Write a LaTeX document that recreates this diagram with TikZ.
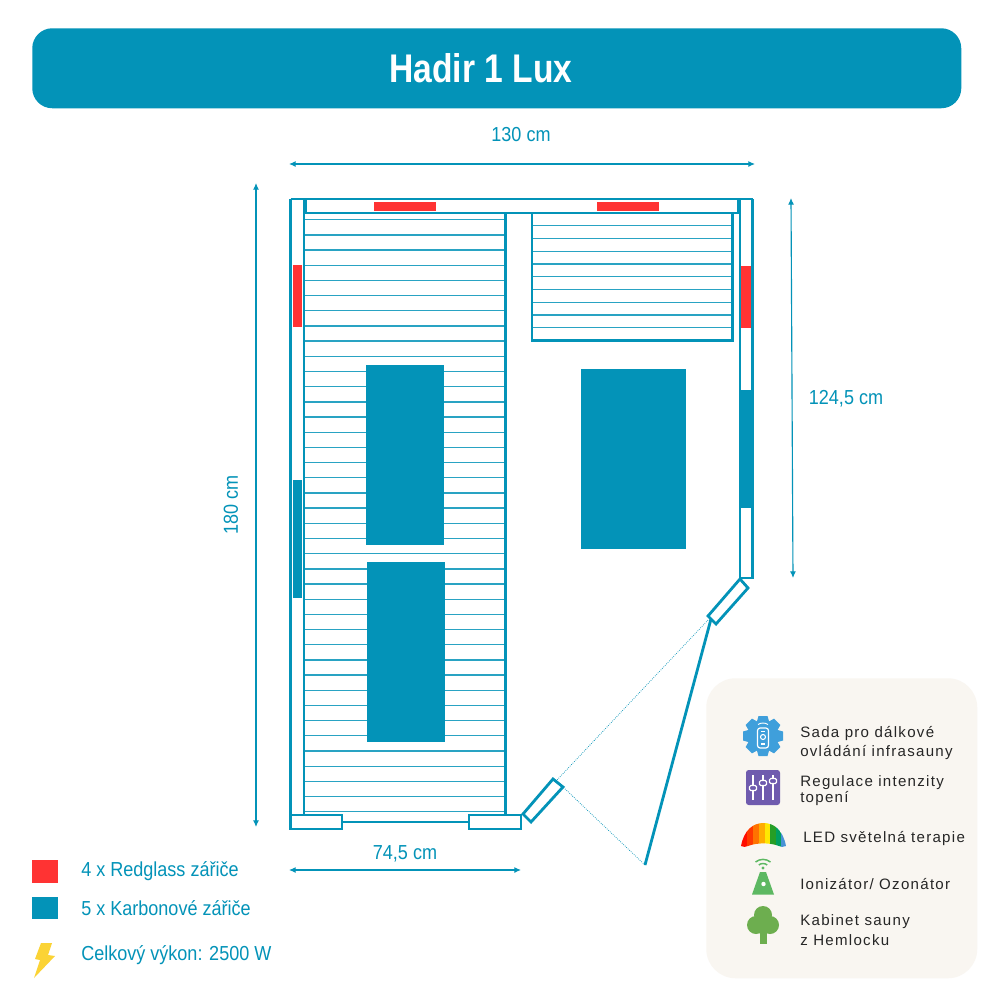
\documentclass[tikz,border=0pt]{standalone}
\usepackage{fontspec}
\setmainfont{Liberation Sans}
\newfontfamily\condf[FakeStretch=0.89]{Liberation Sans}
\newfontfamily\titlef[FakeStretch=0.84]{Liberation Sans}
\newfontfamily\panelf[LetterSpace=8.5]{Liberation Sans}
\usetikzlibrary{arrows.meta}
\definecolor{sblue}{HTML}{0393B8}
\definecolor{sred}{HTML}{FF3333}
\definecolor{panelbg}{HTML}{F9F6F1}
\definecolor{gearblue}{HTML}{3F9FDB}
\definecolor{slidepurple}{HTML}{6F5BAE}
\definecolor{iongreen}{HTML}{5DB862}
\definecolor{treegreen}{HTML}{6DAE4F}
\definecolor{bolt}{HTML}{FBD335}
\tikzset{
  wall/.style={draw=sblue,line width=2.1pt,fill=white},
  wline/.style={draw=sblue,line width=2.1pt},
  slat/.style={draw=sblue!85,line width=1pt},
  carbon/.style={fill=sblue,draw=none},
  redglass/.style={fill=sred,draw=none},
  dimline/.style={draw=sblue,line width=0.85pt,{Latex[length=5pt,width=4.5pt]}-{Latex[length=5pt,width=4.5pt]}},
  dimtext/.style={text=sblue,font=\condf\fontsize{15.2}{17}\selectfont,inner sep=0pt},
  legtext/.style={text=sblue,font=\condf\fontsize{15.2}{17}\selectfont,inner sep=0pt,anchor=west},
  paneltext/.style={text=black!85,font=\panelf\fontsize{11.3}{12}\selectfont,inner sep=0pt,anchor=west,align=left},
  thin door/.style={draw=sblue,line width=0.55pt,densely dotted},
}
\begin{document}
\begin{tikzpicture}[x=0.75pt,y=-0.75pt]
\useasboundingbox (0,0) rectangle (1000,1000);
\fill[white] (0,0) rectangle (1000,1000);
% header
\node[fill=sblue,rounded corners=15pt,minimum width=696.75pt,minimum height=60pt,inner sep=0pt,anchor=north west] (header) at (32,28) {};
\node[text=white,font=\titlef\bfseries\fontsize{30}{33}\selectfont,inner sep=0pt] (title) at (481,68) {Hadir 1 Lux};
% panel
\node[fill=panelbg,rounded corners=22pt,minimum width=203.25pt,minimum height=225pt,inner sep=0pt,anchor=north west] (panel) at (706,678) {};
% slats left
\foreach \i in {0,...,39} { \draw[slat] (304,219.7+\i*15.18) -- (505,219.7+\i*15.18); }
% slats right
\foreach \i in {1,...,9} { \draw[slat] (532,213+\i*12.75) -- (732,213+\i*12.75); }
% walls
\draw[wline] (290.5,199) -- (752.5,199);
\draw[wline] (290.5,199) -- (290.5,815);
\draw[wline] (304,199) -- (304,815);
\draw[wline] (306,199) -- (306,213) -- (738,213) -- (738,199);
\draw[wline] (740,199) -- (740,578) -- (752.5,578) -- (752.5,199);
\draw[wline] (505.5,212) -- (505.5,815);
\draw[wline] (532,213) -- (532,340.5) -- (732.5,340.5) -- (732.5,213);
\draw[wline] (342,822) -- (469,822);
\draw[wall] (290.5,815) rectangle (342,829);
\draw[wall] (469,815) rectangle (521,829);
% door
\draw[wall] (740,579) -- (748,588) -- (716,624) -- (708,616) -- cycle;
\draw[wall] (553,779) -- (563,787) -- (531,822) -- (523,814) -- cycle;
\coordinate (doorhinge) at (711,619);
\coordinate (doorend) at (645,865);
\coordinate (fixedA) at (556,781);
\coordinate (fixedB) at (562,786);
\draw[wline] (doorhinge) -- (doorend);
\draw[thin door] (708,620) -- (fixedA);
\draw[thin door] (fixedB) -- (doorend);
% carbon heaters
\fill[carbon] (366,365) rectangle (444,545);
\fill[carbon] (367,562) rectangle (445,742);
\fill[carbon] (581,369) rectangle (686,549);
\fill[carbon] (293,480) rectangle (302,598);
\fill[carbon] (741,390) rectangle (751,508);
% red heaters
\fill[redglass] (374,202) rectangle (436,211);
\fill[redglass] (597,202) rectangle (659,211);
\fill[redglass] (293,265) rectangle (302,327);
\fill[redglass] (741,266) rectangle (751,328);
% dimensions
\coordinate (d1a) at (289,164); \coordinate (d1b) at (755,164);
\coordinate (d2a) at (256,183); \coordinate (d2b) at (256,827);
\coordinate (d3a) at (791,198); \coordinate (d3b) at (793,578);
\coordinate (d4a) at (289,870); \coordinate (d4b) at (521,870);
\draw[dimline] (d1a) -- (d1b);
\draw[dimline] (d2a) -- (d2b);
\draw[dimline] (d3a) -- (d3b);
\draw[dimline] (d4a) -- (d4b);
\node[dimtext] (t130) at (521,135) {130 cm};
\node[dimtext,rotate=90] (t180) at (231,505) {180 cm};
\node[dimtext] (t124) at (846,398.5) {124,5 cm};
\node[dimtext] (t74) at (405,854) {74,5 cm};
% legend
\fill[redglass] (32,860) rectangle (58,883);
\fill[carbon] (32,897) rectangle (58,919);
\node[legtext] (l1) at (81,871) {4 x Redglass zářiče};
\node[legtext] (l2) at (81,908.5) {5 x Karbonové zářiče};
\node[legtext] (l3) at (81,955.5) {Celkový výkon: 2500 W};
\fill[bolt] (41,943) -- (52,943) -- (48,955) -- (55,956) -- (34,978) -- (40,960) -- (35,959) -- cycle;
% panel texts
\node[paneltext] (p1) at (800,733.5) {Sada pro dálkové};
\node[paneltext] (p2) at (800,752.5) {ovládání infrasauny};
\node[paneltext] (p3) at (800,782.5) {Regulace intenzity};
\node[paneltext] (p4) at (800,798.5) {topení};
\node[paneltext] (p5) at (803,838.5) {LED světelná terapie};
\node[paneltext] (p6) at (800,884) {Ionizátor/ Ozonátor};
\node[paneltext] (p7) at (800,922) {Kabinet sauny};
\node[paneltext] (p8) at (800,940) {z Hemlocku};
% gear icon
\fill[gearblue] (763,736) circle (15.5);
\foreach \a in {0,45,...,315} {
  \fill[gearblue,rotate around={\a:(763,736)}] (756.5,723) -- (758.5,716) -- (767.5,716) -- (769.5,723) -- cycle;
}
\draw[white,line width=0.9pt,rounded corners=2pt] (757.5,728) rectangle (768.5,748);
\draw[white,line width=0.8pt] (763,737) circle (2.5);
\draw[white,line width=0.8pt] (761,731.5) -- (765,731.5);
\draw[white,line width=0.8pt] (761,744) -- (765,744);
\draw[white,line width=0.7pt] (758,724.5) .. controls (761,722.5) and (765,722.5) .. (768,724.5);
% sliders icon
\fill[slidepurple,rounded corners=2pt] (746,770) rectangle (780,805);
\foreach \x/\y in {753/788,763/783,773/781} {
  \draw[white,line width=0.9pt] (\x,775) -- (\x,800);
  \draw[white,line width=0.9pt,fill=slidepurple,rounded corners=1pt] (\x-3.5,\y-2.5) rectangle (\x+3.5,\y+2.5);
}
% rainbow icon
\begin{scope}
\clip (741,846) .. controls (744,830) and (753,823) .. (763.5,823) .. controls (774,823) and (783,830) .. (786,846) .. controls (783,847.5) and (781,847) .. (779,846) .. controls (770,842.5) and (757,842.5) .. (748,846) .. controls (746,847) and (743,847.5) .. (741,846) -- cycle;
\fill[red!90!orange] (740,820) rectangle (747,850);
\fill[orange!45!red] (747,820) rectangle (753,850);
\fill[orange!90!red] (753,820) rectangle (759,850);
\fill[orange!65!yellow] (759,820) rectangle (765,850);
\fill[yellow!90!orange] (765,820) rectangle (770,850);
\fill[green!55!black!85] (770,820) rectangle (776,850);
\fill[teal!75!green] (776,820) rectangle (781,850);
\fill[cyan!60!blue!75] (781,820) rectangle (787,850);
\end{scope}
% ionizer icon
\fill[iongreen] (760,872) -- (766,872) -- (774,894.5) -- (752,894.5) -- cycle;
\fill[white] (763.5,884) circle (2.2);
\fill[iongreen] (763,868) circle (1.6);
\draw[iongreen,line width=1.1pt] (758.8,865) .. controls (761,863) and (765,863) .. (767.2,865);
\draw[iongreen,line width=1.1pt] (755.5,862) .. controls (760,858.5) and (766,858.5) .. (770.5,862);
% tree icon
\fill[treegreen] (763,915) circle (9);
\fill[treegreen] (756,925) circle (9);
\fill[treegreen] (770,925) circle (9);
\fill[treegreen] (763,926) circle (8);
\fill[treegreen] (759.5,928) rectangle (766.5,943.5);
\end{tikzpicture}
\end{document}
